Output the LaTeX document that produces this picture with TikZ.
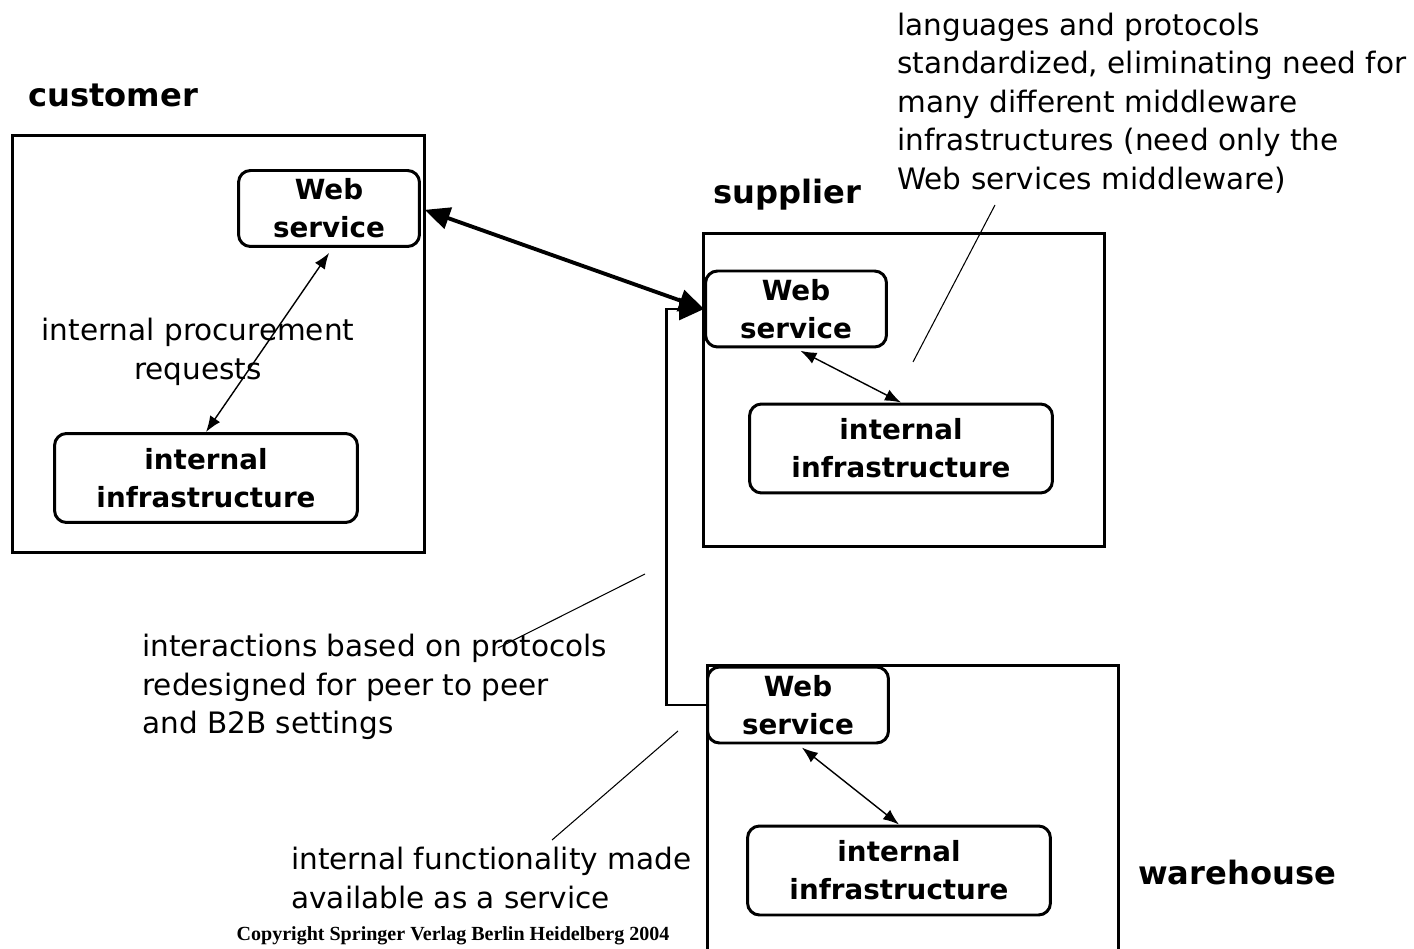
\documentclass[tikz,border=0pt]{standalone}
\usepackage{fontspec}
\setmainfont{DejaVu Sans}
\newfontfamily\copyfont{Liberation Serif}
\usetikzlibrary{arrows.meta}

\begin{document}
\begin{tikzpicture}
  [x=0.02cm,y=-0.02cm,
   site/.style={draw,line width=1.7pt,inner sep=0pt},
   ws/.style={draw,rounded corners=0.24cm,line width=1.7pt,align=center,inner sep=0pt,
     font=\bfseries\fontsize{15.8}{21.5}\selectfont,minimum width=3.62cm,minimum height=1.52cm},
   infra/.style={ws,minimum width=6.06cm,minimum height=1.78cm},
   title/.style={font=\bfseries\fontsize{18.3}{22}\selectfont,inner sep=0pt},
   note/.style={align=left,inner sep=0pt,font=\fontsize{16.8}{21.9}\selectfont},
   link/.style={line width=0.8pt,{Latex[length=0.32cm,width=0.24cm]}-{Latex[length=0.32cm,width=0.24cm]}},
   bus/.style={line width=2.2pt,{Triangle[length=0.5cm,width=0.44cm]}-{Triangle[length=0.5cm,width=0.44cm]}},
   pointer/.style={line width=0.6pt}]
  \useasboundingbox (0,0) rectangle (1414,949);

  % customer
  \node[title,anchor=west] (custlbl) at (28,95) {customer};
  \node[site,minimum width=8.26cm,minimum height=8.36cm] (cust) at (218.5,344) {};
  \node[ws] (cws) at (329,208.5) {Web\\service};
  \node[infra] (cii) at (206,478) {internal\\infrastructure};
  \node[note,align=center] (creq) at (198,352) {internal procurement\\requests};

  % supplier
  \node[title] (supplbl) at (787,195) {supplier};
  \node[site,minimum width=8.04cm,minimum height=6.28cm] (supp) at (904,390) {};
  \node[ws] (sws) at (796,309) {Web\\service};
  \node[infra] (sii) at (901,448.5) {internal\\infrastructure};

  % warehouse
  \node[title] (warelbl) at (1237,873) {warehouse};
  \node[site,minimum width=8.24cm,minimum height=6.4cm] (ware) at (913,825) {};
  \node[ws] (wws) at (798,705) {Web\\service};
  \node[infra] (wii) at (899,870.5) {internal\\infrastructure};

  % notes
  \node[note,anchor=west] (stdnote) at (897,103)
    {languages and protocols\\standardized, eliminating need for\\many different middleware\\infrastructures (need only the\\Web services middleware)};
  \node[note,anchor=west] (p2pnote) at (142,687)
    {interactions based on protocols\\redesigned for peer to peer\\and B2B settings};
  \node[note,anchor=west] (svcnote) at (291,878)
    {internal functionality made\\available as a service};
  \node[inner sep=0pt,font=\copyfont\bfseries\fontsize{11.4}{13}\selectfont] (copy) at (453,936)
    {Copyright Springer Verlag Berlin Heidelberg 2004};

  % connectors
  \draw[link,shorten <=0.12cm] (cws.-85) -- (cii.north);
  \draw[link,shorten <=0.1cm] (sws.south) -- (sii.north);
  \draw[link,shorten <=0.1cm] (wws.south) -- (wii.north);
  \draw[bus,shorten <=0.08cm] (cws.east) -- (sws.west);
  \draw[line width=1.7pt,-{Triangle[length=0.5cm,width=0.44cm]}] (wws.west) -- ++(-40,0) |- (sws.west);

  % pointers
  \coordinate (a1) at (995,205);  \coordinate (a2) at (913,362);
  \coordinate (b1) at (645,574);  \coordinate (b2) at (498,648);
  \coordinate (c1) at (678,731);  \coordinate (c2) at (552,840);
  \foreach \from/\to in {a1/a2,b1/b2,c1/c2}
    \draw[pointer] (\from) -- (\to);
\end{tikzpicture}
\end{document}
